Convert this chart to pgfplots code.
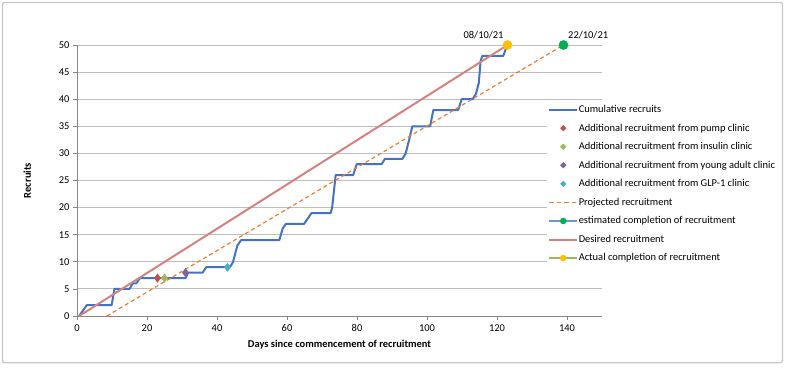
\documentclass[border=0pt]{standalone}
\usepackage{pgfplots}
\pgfplotsset{compat=1.18}
\usepackage{fontspec}
\setmainfont{Carlito}
\usetikzlibrary{shapes.geometric}

\definecolor{cumblue}{RGB}{68,114,196}
\definecolor{estblue}{RGB}{110,150,210}
\definecolor{desired}{RGB}{214,130,128}
\definecolor{projorange}{RGB}{237,125,49}
\definecolor{pumpred}{RGB}{192,80,77}
\definecolor{insgreen}{RGB}{155,187,89}
\definecolor{yapurple}{RGB}{128,100,162}
\definecolor{glpcyan}{RGB}{75,172,198}
\definecolor{estgreen}{RGB}{0,176,80}
\definecolor{actyellow}{RGB}{255,192,0}
\definecolor{gridgray}{RGB}{190,190,190}
\definecolor{axisgray}{RGB}{134,134,134}
\definecolor{framegray}{RGB}{200,200,200}

\newcommand{\chartfont}{\fontsize{10.5}{12}\selectfont}

\begin{document}
\begin{tikzpicture}[x=1bp,y=1bp]
\useasboundingbox (0,0) rectangle (786,367);
\draw[framegray, line width=1.3bp, rounded corners=2bp] (2.5,4.3) rectangle (782.5,364.5);

\begin{axis}[
  at={(77bp,51bp)}, anchor=south west,
  scale only axis, width=525bp, height=271bp,
  xmin=0, xmax=150, ymin=0, ymax=50,
  xtick={0,20,...,140}, ytick={0,5,...,50},
  axis lines=left, axis line style={axisgray, line width=0.8bp, -},
  tick align=outside, major tick length=4bp,
  tick style={axisgray, line width=0.8bp},
  ymajorgrids, grid style={gridgray, line width=1bp},
  /pgf/number format/assume math mode=true,
  tick label style={font=\chartfont, text=black},
  xticklabel style={yshift=-1bp},
  xlabel={\textbf{Days since commencement of recruitment}},
  ylabel={\textbf{Recruits}},
  label style={font=\chartfont},
  xlabel style={at={(axis description cs:0.5,-0.107)}, anchor=center},
  ylabel style={at={(axis description cs:-0.095,0.5)}, anchor=center, rotate=0},
  clip=false,
  legend cell align=left,
  legend style={at={(axis cs:134.3,39.2)}, anchor=north west,
    draw=none, fill=white, font=\chartfont,
    row sep=8.8bp, inner sep=1bp,
    nodes={inner sep=0.5bp}},
]
% cumulative recruits (stepwise)
\addplot[cumblue, line width=2bp, line join=round,
  legend image code/.code={\draw[cumblue, line width=2bp] (0bp,0bp) -- (28bp,0bp);}]
  coordinates {
  (0.6,0) (2.8,2) (9.9,2) (10.7,5) (15,5) (15.9,6) (16.9,6) (18,7)
  (31,7) (31.8,8) (35.9,8) (36.9,9) (43.7,9) (44.6,10) (45.8,13) (46.9,14)
  (57.8,14) (58.8,16.2) (59.7,17) (64.9,17) (67,19) (72.5,19) (72.9,20) (73.9,26)
  (78.9,26) (79.9,28) (87,28) (88,29) (93,29) (93.9,30) (94.9,32.5) (95.8,35)
  (100.9,35) (101.8,38) (108.9,38) (109.9,40) (113,40) (114,41) (114.8,43)
  (115.3,47) (115.8,48) (121.8,48) (122.9,50)
  };
\addlegendentry{Cumulative recruits}

\addplot[only marks, mark=diamond*, mark size=4.2bp, mark options={pumpred, draw=pumpred, fill=pumpred},
  legend image code/.code={\fill[pumpred] (14bp,2.8bp) -- (16.8bp,0bp) -- (14bp,-2.8bp) -- (11.2bp,0bp) -- cycle;}]
  coordinates {(23,7)};
\addlegendentry{Additional recruitment from pump clinic}

\addplot[only marks, mark=diamond*, mark size=4.2bp, mark options={insgreen, draw=insgreen, fill=insgreen},
  legend image code/.code={\fill[insgreen] (14bp,2.8bp) -- (16.8bp,0bp) -- (14bp,-2.8bp) -- (11.2bp,0bp) -- cycle;}]
  coordinates {(25,7)};
\addlegendentry{Additional recruitment from insulin clinic}

\addplot[only marks, mark=diamond*, mark size=4.2bp, mark options={yapurple, draw=yapurple, fill=yapurple},
  legend image code/.code={\fill[yapurple] (14bp,2.8bp) -- (16.8bp,0bp) -- (14bp,-2.8bp) -- (11.2bp,0bp) -- cycle;}]
  coordinates {(31,8)};
\addlegendentry{Additional recruitment from young adult clinic}

\addplot[only marks, mark=diamond*, mark size=4.2bp, mark options={glpcyan, draw=glpcyan, fill=glpcyan},
  legend image code/.code={\fill[glpcyan] (14bp,2.8bp) -- (16.8bp,0bp) -- (14bp,-2.8bp) -- (11.2bp,0bp) -- cycle;}]
  coordinates {(43,9)};
\addlegendentry{Additional recruitment from GLP-1 clinic}

% projected recruitment
\addplot[projorange, line width=1.2bp, dash pattern=on 4bp off 3bp,
  legend image code/.code={\draw[projorange, line width=1.6bp, dash pattern=on 4.5bp off 3bp] (0bp,0bp) -- (28bp,0bp);}]
  coordinates {(8.5,0) (139,50)};
\addlegendentry{Projected recruitment}

% estimated completion
\addplot[only marks, mark=*, mark size=4.6bp, mark options={estgreen, draw=estgreen, fill=estgreen},
  legend image code/.code={\draw[estblue, line width=1.8bp] (0bp,0bp) -- (28bp,0bp);
    \fill[estgreen] (14bp,0bp) circle (3bp);}]
  coordinates {(139,50)};
\addlegendentry{estimated completion of recruitment}

% desired recruitment
\addplot[desired, line width=2bp,
  legend image code/.code={\draw[desired, line width=2bp] (0bp,0bp) -- (28bp,0bp);}]
  coordinates {(0.6,0) (123,50)};
\addlegendentry{Desired recruitment}

% actual completion
\addplot[only marks, mark=*, mark size=4.6bp, mark options={actyellow, draw=actyellow, fill=actyellow},
  legend image code/.code={\draw[insgreen, line width=1.8bp] (0bp,0bp) -- (28bp,0bp);
    \fill[actyellow] (14bp,0bp) circle (3bp);}]
  coordinates {(123,50)};
\addlegendentry{Actual completion of recruitment}

\node[anchor=south east, font=\chartfont, inner sep=1bp] at (axis cs:122.2,50.9) {08/10/21};
\node[anchor=south west, font=\chartfont, inner sep=1bp] at (axis cs:140.0,50.9) {22/10/21};
\end{axis}
\end{tikzpicture}
\end{document}
